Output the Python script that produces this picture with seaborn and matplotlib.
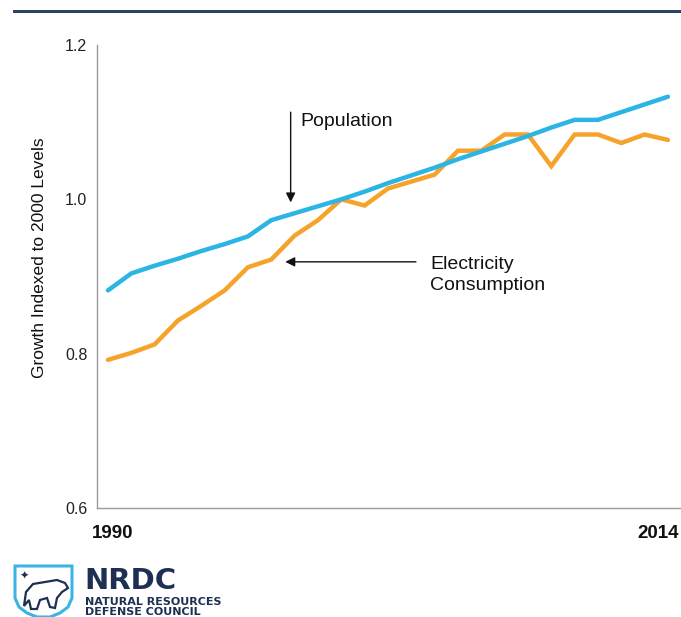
import matplotlib
matplotlib.use("Agg")
import matplotlib.pyplot as plt
import matplotlib.transforms as mtransforms
from matplotlib.patches import Polygon, Rectangle
import numpy as np
import pandas as pd
import seaborn as sns

# --- data -----------------------------------------------------------------
years = list(range(1990, 2015))
population = [0.882, 0.904, 0.914, 0.923, 0.933, 0.942, 0.952, 0.973, 0.982,
              0.991, 1.000, 1.010, 1.021, 1.031, 1.041, 1.052, 1.062, 1.072,
              1.082, 1.093, 1.103, 1.103, 1.113, 1.123, 1.133]
electricity = [0.792, 0.801, 0.812, 0.843, 0.862, 0.882, 0.912, 0.922, 0.953,
               0.973, 1.000, 0.992, 1.014, 1.023, 1.032, 1.063, 1.063, 1.084,
               1.084, 1.043, 1.084, 1.084, 1.073, 1.084, 1.077]
y_ticks = [0.6, 0.8, 1.0, 1.2]
x_labels = {1990: "1990", 2014: "2014"}
series_names = ["Population", "Electricity"]

df = pd.DataFrame({"year": years * 2,
                   "value": population + electricity,
                   "series": [series_names[0]] * len(years) + [series_names[1]] * len(years)})

# --- style ----------------------------------------------------------------
sns.set_theme(style="white")
plt.rcParams["font.family"] = ["Liberation Sans", "DejaVu Sans"]

BLUE = "#2BB5E5"
ORANGE = "#F5A32A"
NAVY = "#1D2F52"
GREY = "#9A9A9A"

fig = plt.figure(figsize=(6.81, 6.17), dpi=100)
ax = fig.add_axes([97 / 681, 1 - 508 / 617, 584 / 681, (508 - 45) / 617])

sns.lineplot(data=df, x="year", y="value", hue="series",
             palette={series_names[0]: BLUE, series_names[1]: ORANGE},
             hue_order=[series_names[1], series_names[0]],
             linewidth=3.2, legend=False, ax=ax, solid_joinstyle="miter")

ax.set_xlim(1989.53, 2014.56)
ax.set_ylim(0.6, 1.2)

# axes frame: only left and bottom
for side in ["top", "right"]:
    ax.spines[side].set_visible(False)
for side in ["left", "bottom"]:
    ax.spines[side].set_color(GREY)
    ax.spines[side].set_linewidth(1.0)

ax.set_yticks(y_ticks)
ax.set_yticklabels([f"{v:.1f}" for v in y_ticks], fontsize=11.5)
ax.tick_params(axis="y", length=0, pad=7, labelcolor="#222222")

ax.set_xticks(years)
ax.set_xticklabels([x_labels.get(y, "") for y in years], fontsize=13.5,
                   fontweight="bold")
ax.tick_params(axis="x", direction="in", length=9, width=1, color=GREY,
               pad=12, labelcolor="#111111")
# nudge end labels inward
for lbl, dx in zip([ax.get_xticklabels()[0], ax.get_xticklabels()[-1]], [5, -10]):
    lbl.set_transform(lbl.get_transform() +
                      mtransforms.ScaledTranslation(dx / 100, 0, fig.dpi_scale_trans))

ax.set_xlabel("")
ax.set_ylabel("Growth Indexed to 2000 Levels", fontsize=12.5, color="#111111")
ax.yaxis.set_label_coords(-0.085, 0.54)

# annotations
ax.annotate("", xy=(1997.83, 0.996), xytext=(1997.83, 1.113),
            arrowprops=dict(arrowstyle="-|>", color="#111111", lw=1.0,
                            mutation_scale=14, shrinkA=0, shrinkB=0))
ax.text(1998.25, 1.101, "Population", fontsize=14, color="#111111",
        va="center", ha="left")

ax.annotate("", xy=(1997.6, 0.919), xytext=(2003.2, 0.919),
            arrowprops=dict(arrowstyle="-|>", color="#111111", lw=1.0,
                            mutation_scale=14, shrinkA=0, shrinkB=0))
ax.text(2003.8, 0.902, "Electricity\nConsumption", fontsize=14,
        color="#111111", va="center", ha="left", linespacing=1.25)

# header rule
fig.add_artist(Rectangle((13 / 681, 1 - 13 / 617), 1 - 13 / 681, 3.5 / 617,
                         transform=fig.transFigure, color="#2B4466", lw=0))

# organisation mark
sx = lambda px: px / 681
sy = lambda py: 1 - py / 617
shield = [(15, 566), (72, 566), (72, 598), (68, 607), (60, 613), (50, 617),
          (37, 617), (27, 613), (19, 607), (15, 598)]
fig.add_artist(Polygon([(sx(x), sy(y)) for x, y in shield], closed=True,
                       transform=fig.transFigure, fill=False,
                       edgecolor="#3BB4E4", lw=2.2))
fig.text(sx(24), sy(576), "✦", fontsize=8, color=NAVY, ha="center",
         va="center", family="DejaVu Sans")
bear = [(24, 606), (26, 592), (33, 584), (45, 582), (57, 580), (65, 583),
        (68, 588), (62, 592), (57, 598), (55, 608), (50, 607), (47, 598),
        (40, 600), (37, 609), (31, 609), (29, 600)]
fig.add_artist(Polygon([(sx(x), sy(y)) for x, y in bear], closed=True,
                       transform=fig.transFigure, fill=False,
                       edgecolor=NAVY, lw=1.6))
fig.text(sx(84), sy(589), "NRDC", fontsize=21, fontweight="heavy",
         color=NAVY, ha="left", va="baseline", family="DejaVu Sans")
fig.text(sx(85), sy(602), "NATURAL RESOURCES", fontsize=8,
         fontweight="bold", color=NAVY, ha="left", va="center",
         family="DejaVu Sans")
fig.text(sx(85), sy(612), "DEFENSE COUNCIL", fontsize=8,
         fontweight="bold", color=NAVY, ha="left", va="center",
         family="DejaVu Sans")

fig.savefig("out.png", dpi=100, facecolor="white")
